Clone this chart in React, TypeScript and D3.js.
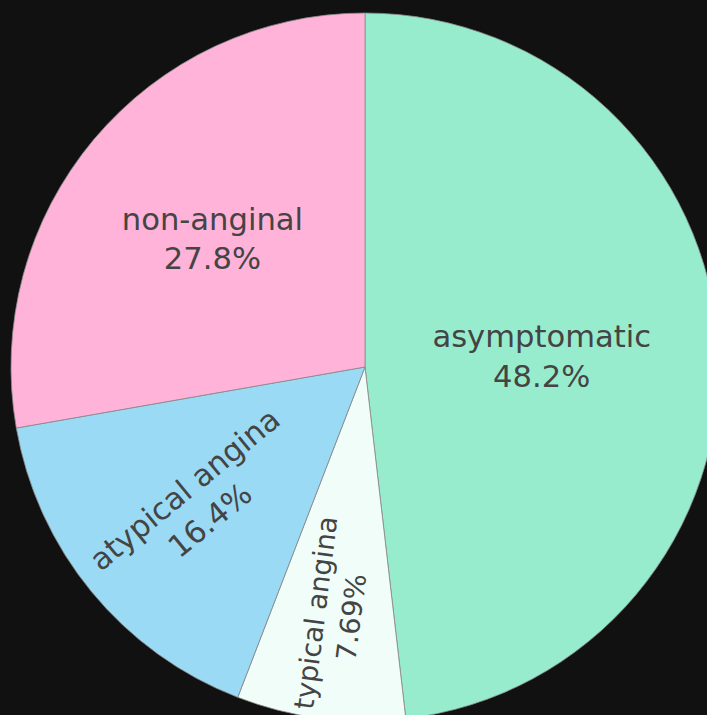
import React from "react";
import * as d3 from "d3";

const categories = ["asymptomatic", "typical angina", "atypical angina", "non-anginal"];
const counts = [144, 23, 49, 83];
const colors = ["#98ecce", "#f0fdf8", "#9adaf4", "#ffb3d8"];
// label placement (layout, not data): radius fraction, font size, orientation
const labelRadius = [0.5, 0.706, 0.613, 0.563];
const labelFont = [30.6, 27.5, 30.6, 30.6];
const labelRadial = [false, true, true, false];

const W = 707;
const H = 715;
const CX = 365;
const CY = 367;
const R = 354;

export default function App() {
  React.useEffect(() => {
    document.body.style.margin = "0";
    document.body.style.background = "#111111";
  }, []);

  const total = d3.sum(counts);
  const pie = d3
    .pie<number>()
    .sort(null)
    .startAngle(0)
    .endAngle(2 * Math.PI)(counts);
  const arc = d3.arc<d3.PieArcDatum<number>>().innerRadius(0).outerRadius(R);
  const fmt = (v: number) => {
    const p = (v / total) * 100;
    return d3.format(".3")(p) + "%";
  };

  return (
    <svg
      width={W}
      height={H}
      style={{ position: "absolute", left: 0, top: 0, display: "block" }}
      fontFamily="'DejaVu Sans', Verdana, sans-serif"
    >
      <rect x={0} y={0} width={W} height={H} fill="#111111" />
      <g transform={`translate(${CX},${CY})`}>
        {pie.map((d, i) => (
          <path key={i} d={arc(d) || ""} fill={colors[i]} stroke="#8a8a8a" strokeWidth={0.8} />
        ))}
        {pie.map((d, i) => {
          const mid = (d.startAngle + d.endAngle) / 2;
          const r = labelRadius[i] * R;
          const x = r * Math.sin(mid);
          const y = -r * Math.cos(mid);
          const f = labelFont[i];
          const gap = 1.3 * f;
          const rot = labelRadial[i] ? (mid * 180) / Math.PI + 90 : 0;
          const b1 = -gap / 2 + 0.346 * f;
          const b2 = gap / 2 + 0.346 * f;
          return (
            <g key={"l" + i} transform={`translate(${x},${y}) rotate(${rot})`}>
              <text textAnchor="middle" fontSize={f} fill="#444444">
                <tspan x={0} y={b1}>{categories[i]}</tspan>
                <tspan x={0} y={b2}>{fmt(counts[i])}</tspan>
              </text>
            </g>
          );
        })}
      </g>
    </svg>
  );
}
